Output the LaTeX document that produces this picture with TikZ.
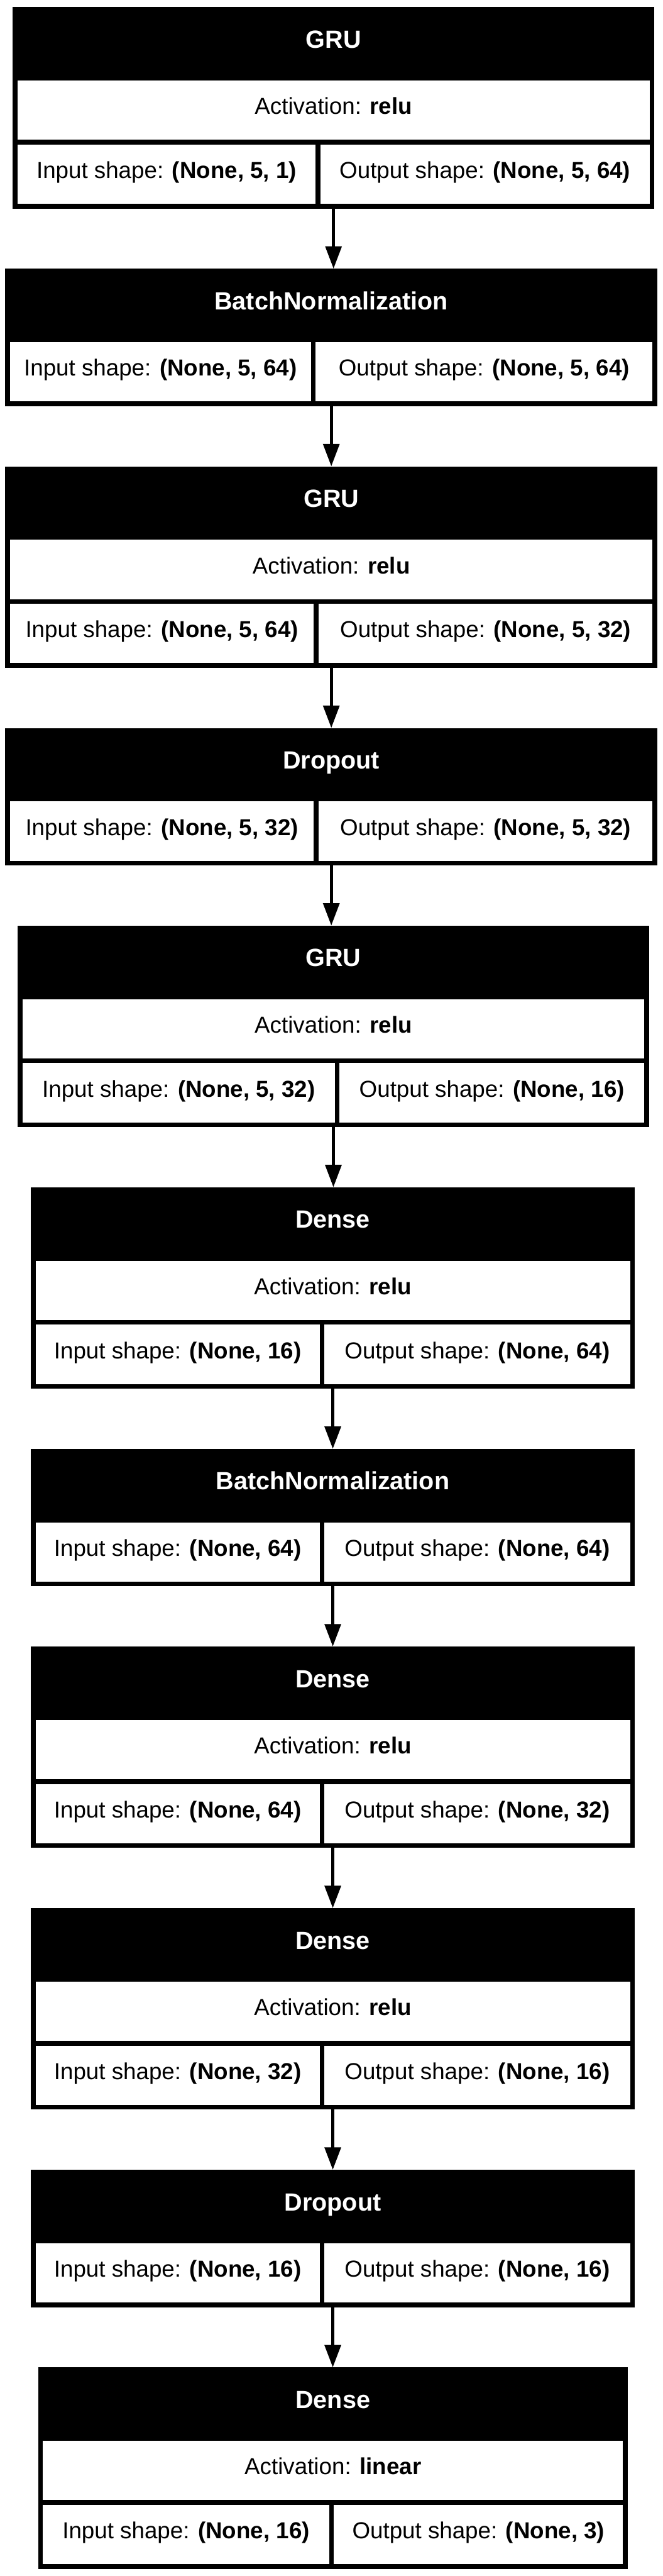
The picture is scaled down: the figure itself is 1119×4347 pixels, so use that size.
\documentclass[tikz,border=0pt]{standalone}
\usepackage{fontspec}
\setmainfont{Liberation Sans}
\usetikzlibrary{arrows.meta}

\begin{document}
\begin{tikzpicture}[x=1pt,y=-1pt,
    every node/.style={inner sep=0pt, outer sep=0pt, text height=27pt, text depth=13pt},
    frame/.style={fill=black, anchor=north west},
    head/.style={anchor=north, minimum height=124pt, text=white, font=\fontsize{42}{50}\selectfont\bfseries},
    cell/.style={fill=white, anchor=north west, minimum height=100pt, font=\fontsize{39}{47}\selectfont},
    flow/.style={line width=5.5pt, -{Triangle[length=38pt,width=27pt]}}]
    \path[fill=white, use as bounding box] (0,0) rectangle (1119,4347);
    % layers with activation row: id/top/left/right/divider/name/activation/input/output
    \foreach \n/\yt/\xl/\xr/\xd/\ttl/\act/\inp/\outp in {
        1/12/21.5/1105/537/GRU/relu/{(None, 5, 1)}/{(None, 5, 64)},
        3/787/9/1110/534/GRU/relu/{(None, 5, 64)}/{(None, 5, 32)},
        5/1562/30/1096/569.5/GRU/relu/{(None, 5, 32)}/{(None, 16)},
        6/2003.5/52/1072/544/Dense/relu/{(None, 16)}/{(None, 64)},
        8/2778.5/52/1072/544/Dense/relu/{(None, 64)}/{(None, 32)},
        9/3220/52/1072/544/Dense/relu/{(None, 32)}/{(None, 16)},
        11/3995/64.5/1060/560/Dense/linear/{(None, 16)}/{(None, 3)}}
    {
        \node[frame, minimum width=\xr-\xl, minimum height=340pt] (b\n) at (\xl,\yt) {};
        \node[head, minimum width=\xr-\xl-16] (b\n-h) at ({(\xl+\xr)/2},\yt) {\ttl};
        \node[cell, minimum width=\xr-\xl-16] (b\n-a) at (\xl+8,\yt+124) {Activation: \textbf{\act}};
        \node[cell, minimum width=\xd-\xl-12] (b\n-i) at (\xl+8,\yt+232) {Input shape: \textbf{\inp}};
        \node[cell, minimum width=\xr-\xd-12] (b\n-o) at (\xd+4,\yt+232) {Output shape: \textbf{\outp}};
    }
    % layers without activation row
    \foreach \n/\yt/\xl/\xr/\xd/\ttl/\inp/\outp in {
        2/453.5/9/1110/529/BatchNormalization/{(None, 5, 64)}/{(None, 5, 64)},
        4/1228.5/9/1110/534/Dropout/{(None, 5, 32)}/{(None, 5, 32)},
        7/2445/52/1072/544/BatchNormalization/{(None, 64)}/{(None, 64)},
        10/3661.5/52/1072/544/Dropout/{(None, 16)}/{(None, 16)}}
    {
        \node[frame, minimum width=\xr-\xl, minimum height=232pt] (b\n) at (\xl,\yt) {};
        \node[head, minimum width=\xr-\xl-16] (b\n-h) at ({(\xl+\xr)/2},\yt) {\ttl};
        \node[cell, minimum width=\xd-\xl-12] (b\n-i) at (\xl+8,\yt+124) {Input shape: \textbf{\inp}};
        \node[cell, minimum width=\xr-\xd-12] (b\n-o) at (\xd+4,\yt+124) {Output shape: \textbf{\outp}};
    }
    \foreach \a/\b in {1/2,2/3,3/4,4/5,5/6,6/7,7/8,8/9,9/10,10/11}
        \draw[flow] (b\a.south) -- (b\a.south |- b\b.north);
\end{tikzpicture}
\end{document}
